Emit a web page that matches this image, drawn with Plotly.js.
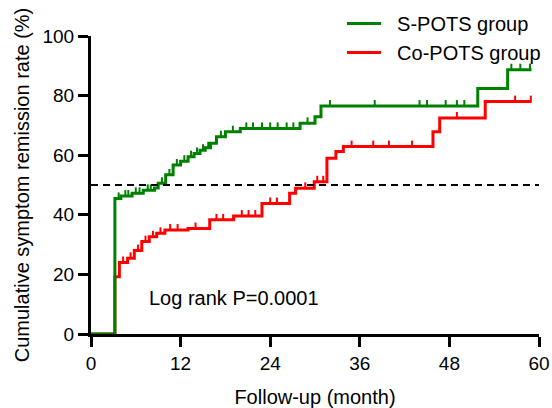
<!DOCTYPE html>
<html>
<head>
<meta charset="utf-8">
<script src="https://cdn.plot.ly/plotly-3.0.1.min.js"></script>
<style>html,body{margin:0;padding:0;background:#fff;}#chart{width:552px;height:408px;}</style>
</head>
<body>
<div id="chart"></div>
<script>
// ---- Data ----
const seriesNames = ["S-POTS group", "Co-POTS group"];

// S-POTS group: event times (months) and cumulative remission rate (%) after each step
const sTimes = [0, 3.2, 4.0, 5.5, 7.0, 8.5, 9.0, 10.0, 11.0, 12.0, 13.0, 13.8, 14.6, 15.3, 16.0, 16.8, 18.0, 20.0, 28.0, 30.0, 30.8, 51.8, 55.8];
const sRate  = [0, 45.5, 46.3, 47.2, 48.2, 49.0, 50.6, 53.4, 56.7, 58.0, 59.5, 60.6, 61.7, 62.5, 64.0, 66.2, 67.9, 69.0, 70.7, 72.9, 76.5, 82.4, 88.7];
const sEnd = 59.0;
const sCensored = [3.7, 4.6, 5.0, 6.0, 6.5, 7.6, 8.0, 9.5, 10.5, 11.5, 12.5, 13.4, 14.2, 15.0, 15.7, 17.4, 19.0, 20.8, 21.7, 22.9, 24.0, 25.0, 26.2, 27.1, 29.0, 32.0, 38.0, 44.0, 45.0, 47.5, 49.0, 50.0, 56.3, 57.5, 58.8];

// Co-POTS group
const cTimes = [0, 3.2, 3.8, 4.9, 5.8, 6.8, 7.8, 8.8, 9.9, 13.0, 15.9, 19.1, 22.9, 26.6, 27.4, 29.9, 31.6, 32.8, 33.8, 45.8, 46.7, 52.8];
const cRate  = [0, 19.2, 24.0, 25.4, 28.0, 31.0, 32.6, 33.8, 34.9, 35.4, 38.3, 39.6, 43.8, 47.2, 48.9, 51.1, 59.0, 61.2, 62.9, 67.9, 72.5, 78.0];
const cEnd = 59.0;
const cCensored = [4.3, 5.3, 6.3, 7.3, 8.3, 9.3, 10.6, 11.6, 14.0, 16.8, 17.7, 20.2, 21.1, 22.0, 24.0, 24.9, 28.7, 30.3, 31.1, 34.9, 37.8, 39.9, 43.0, 49.0, 56.8, 58.9];

const medianLevel = 50;
const xTicks = [0, 12, 24, 36, 48, 60];
const yTicks = [0, 20, 40, 60, 80, 100];
const annotationText = "Log rank P=0.0001";

// ---- Helpers ----
function stepAt(times, vals, t) {
  let v = vals[0];
  for (let i = 0; i < times.length; i++) { if (times[i] <= t) v = vals[i]; }
  return v;
}
function tickSegments(times, vals, cens, h) {
  const xs = [], ys = [];
  cens.forEach(t => { const v = stepAt(times, vals, t); xs.push(t, t, null); ys.push(v, v + h, null); });
  return {x: xs, y: ys};
}

const green = "#008000", red = "#ff0000";
const tickH = 2.0;
const sTicks = tickSegments(sTimes, sRate, sCensored, tickH);
const cTicks = tickSegments(cTimes, cRate, cCensored, tickH);
const pad = "\u00a0\u00a0";

const traces = [
  {x: cTimes.concat([cEnd]), y: cRate.concat([cRate[cRate.length-1]]), mode: "lines", line: {shape: "hv", color: red, width: 3}, name: pad + seriesNames[1], legendrank: 2, hoverinfo: "skip"},
  {x: cTicks.x, y: cTicks.y, mode: "lines", line: {color: red, width: 2}, showlegend: false, hoverinfo: "skip"},
  {x: sTimes.concat([sEnd]), y: sRate.concat([sRate[sRate.length-1]]), mode: "lines", line: {shape: "hv", color: green, width: 3}, name: pad + seriesNames[0], legendrank: 1, hoverinfo: "skip"},
  {x: sTicks.x, y: sTicks.y, mode: "lines", line: {color: green, width: 2}, showlegend: false, hoverinfo: "skip"},
  {x: [xTicks[0], xTicks[xTicks.length-1]], y: [medianLevel, medianLevel], mode: "lines", line: {color: "#000", width: 2, dash: "7px,5px"}, showlegend: false, hoverinfo: "skip"}
];

const fontFam = "Liberation Sans, Arial, Helvetica, sans-serif";
const layout = {
  width: 552, height: 408,
  margin: {l: 91, r: 13, t: 36, b: 74, autoexpand: false},
  paper_bgcolor: "#fff", plot_bgcolor: "#fff",
  font: {family: fontFam, color: "#000", size: 19},
  showlegend: true,
  legend: {xref: "container", yref: "container", x: 342/552, y: 1 - 4/408, xanchor: "left", yanchor: "top", font: {size: 20, family: fontFam}, bgcolor: "rgba(0,0,0,0)", itemwidth: 34, tracegroupgap: 0, traceorder: "normal"},
  xaxis: {
    range: [0, 60], tickvals: xTicks, ticktext: xTicks.map(String),
    showgrid: false, zeroline: false, showline: true, linecolor: "#000", linewidth: 3,
    ticks: "outside", ticklen: 10, tickwidth: 3, tickcolor: "#000",
    tickfont: {size: 19}, title: {text: "Follow-up (month)", font: {size: 20}, standoff: 18}
  },
  yaxis: {
    range: [0, 100], tickvals: yTicks, ticktext: yTicks.map(String),
    showgrid: false, zeroline: false, showline: true, linecolor: "#000", linewidth: 3,
    ticks: "outside", ticklen: 10, tickwidth: 3, tickcolor: "#000",
    tickfont: {size: 19}, title: {text: "Cumulative symptom remission rate (%)", font: {size: 20}, standoff: 8}
  },
  annotations: [{x: 7.5, y: 12, xref: "x", yref: "y", text: annotationText, showarrow: false, xanchor: "left", yanchor: "middle", font: {size: 20}}]
};

Plotly.newPlot("chart", traces, layout, {staticPlot: true, displayModeBar: false});
</script>
</body>
</html>
